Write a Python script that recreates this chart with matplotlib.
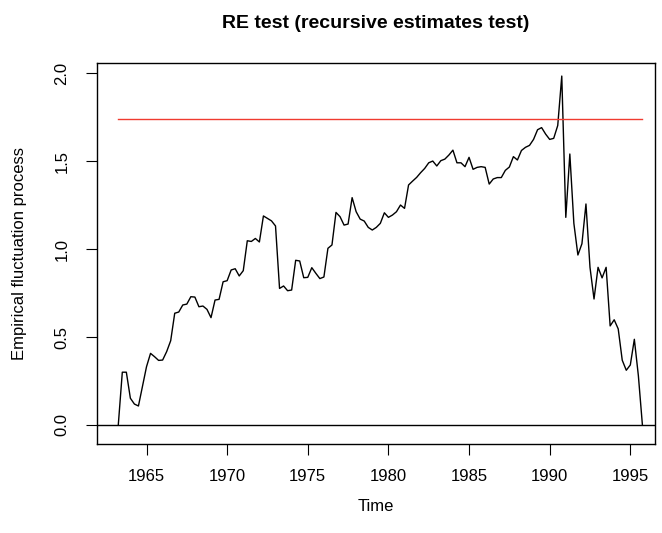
import numpy as np
import matplotlib
matplotlib.use('Agg')
import matplotlib.pyplot as plt

# quarterly RE fluctuation process, 1963 Q2 .. 1995 Q4
start_year = 1963.25
freq = 4
process = [
    0.000, 0.300, 0.300,
    0.152, 0.119, 0.108, 0.218,
    0.331, 0.407, 0.388, 0.367,
    0.369, 0.417, 0.479, 0.635,
    0.642, 0.682, 0.687, 0.729,
    0.727, 0.672, 0.676, 0.657,
    0.610, 0.710, 0.714, 0.814,
    0.820, 0.881, 0.888, 0.847,
    0.877, 1.047, 1.043, 1.060,
    1.040, 1.188, 1.174, 1.160,
    1.131, 0.776, 0.790, 0.763,
    0.767, 0.936, 0.932, 0.837,
    0.839, 0.894, 0.862, 0.832,
    0.841, 1.004, 1.023, 1.208,
    1.184, 1.136, 1.142, 1.292,
    1.212, 1.170, 1.159, 1.123,
    1.108, 1.123, 1.146, 1.206,
    1.180, 1.193, 1.212, 1.250,
    1.231, 1.364, 1.386, 1.407,
    1.434, 1.458, 1.490, 1.500,
    1.472, 1.502, 1.511, 1.534,
    1.562, 1.490, 1.490, 1.468,
    1.521, 1.453, 1.464, 1.468,
    1.464, 1.369, 1.398, 1.406,
    1.406, 1.447, 1.466, 1.525,
    1.506, 1.560, 1.578, 1.589,
    1.623, 1.678, 1.690, 1.653,
    1.623, 1.629, 1.702, 1.983,
    1.180, 1.540, 1.146, 0.966,
    1.030, 1.256, 0.896, 0.716,
    0.896, 0.836, 0.896, 0.563,
    0.598, 0.546, 0.368, 0.311,
    0.341, 0.487, 0.280, 0.000,
]
boundary = 1.74
xticks = [1965, 1970, 1975, 1980, 1985, 1990, 1995]
yticks = [0.0, 0.5, 1.0, 1.5, 2.0]

plt.rcParams['font.family'] = ['Liberation Sans', 'DejaVu Sans']

time = start_year + np.arange(len(process)) / freq

fig = plt.figure(figsize=(6.62, 5.33), dpi=100)
ax = fig.add_axes([0.147, 0.167, 0.8424, 0.7154])

ax.plot(time, process, color='black', lw=1.0)
ax.axhline(0, color='black', lw=1.0)
ax.plot([time[0], time[-1]], [boundary, boundary], color='#f03b30', lw=1.0)

ax.set_xlim(1961.95, 1996.53)
ax.set_ylim(-0.108, 2.059)
ax.set_xticks(xticks)
ax.set_yticks(yticks)
ax.set_xticklabels([str(t) for t in xticks], fontsize=12)
ax.set_yticklabels([f'{t:.1f}' for t in yticks], fontsize=12, rotation=90, va='center')
ax.tick_params(axis='both', direction='out', length=8, width=0.8, color='black')
ax.tick_params(axis='x', pad=10)
ax.tick_params(axis='y', pad=12)

for s in ax.spines.values():
    s.set_linewidth(1.0)
    s.set_color('black')

ax.set_xlabel('Time', fontsize=12, labelpad=11)
ax.set_ylabel('Empirical fluctuation process', fontsize=12, labelpad=20)
ax.set_title('RE test (recursive estimates test)', fontsize=14, fontweight='bold', pad=25)

fig.savefig('out.png', dpi=100)
